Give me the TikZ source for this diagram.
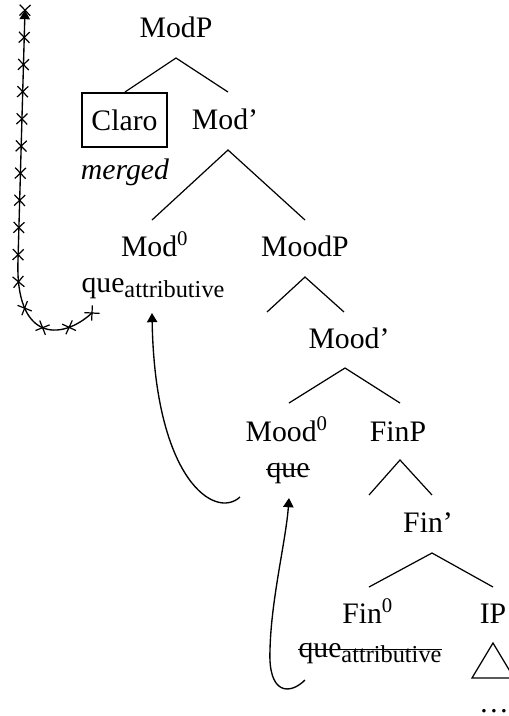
\documentclass[tikz,border=0pt]{standalone}
\usepackage{fontspec}
\setmainfont{Liberation Serif}
\usetikzlibrary{arrows.meta,decorations.markings,calc}
\newcommand\attrsub[1]{\raisebox{-2.2pt}{\fontsize{9}{10}\selectfont #1}}
\begin{document}
\begin{tikzpicture}[x=0.37pt,y=-0.37pt,
  font=\fontsize{11}{13}\selectfont,
  lab/.style={anchor=base,inner sep=0pt},
  br/.style={line width=0.45pt},
  strike/.style={line width=0.45pt},
  mv/.style={line width=0.5pt,-{Triangle[length=3.4pt,width=3.8pt]}},
  xmarks/.style={postaction={decorate},
    decoration={markings,
      mark=between positions 0 and 1 step 0.0714 with
        {\draw[-,line width=0.45pt] (-2pt,-2pt)--(2pt,2pt) (-2pt,2pt)--(2pt,-2pt);}}},
]
\useasboundingbox (0,0) rectangle (509,716);

% nodes
\node[lab] (modp) at (176,37) {ModP};
\node[draw,line width=0.45pt,minimum width=31.5pt,minimum height=20pt,inner sep=0pt] (claro) at (124.5,120) {Claro};
\node[lab] (modbar) at (225,129) {Mod’};
\node[lab] (merged) at (125,179) {\itshape merged};
\node[lab] (mod0) at (155,256) {Mod\textsuperscript{0}};
\node[lab] (qa1) at (153,292) {que\attrsub{attributive}};
\node[lab] (moodp) at (305,256) {MoodP};
\node[lab] (moodbar) at (349,348) {Mood’};
\node[lab] (mood0) at (287,441) {Mood\textsuperscript{0}};
\node[lab] (qmood) at (288,477) {que};
\node[lab] (finp) at (398,441) {FinP};
\node[lab] (finbar) at (428,532) {Fin’};
\node[lab] (fin0) at (368,623) {Fin\textsuperscript{0}};
\node[lab] (qa2) at (370,657) {que\attrsub{attributive}};
\node[lab] (ip) at (493,623) {IP};
\node[lab] (dots) at (494,712) {\dots};

% strike-throughs
\draw[strike] ([yshift=2.7pt]qmood.base west) -- ([yshift=2.7pt]qmood.base east);
\draw[strike] ([yshift=2.7pt]qa2.base west) -- ([yshift=2.7pt]qa2.base east);

% branch points
\coordinate (modp-b) at (176,58);
\coordinate (claro-t) at (125,92);
\coordinate (modbar-t) at (228,92);
\coordinate (modbar-b) at (228,150);
\coordinate (mod0-t) at (152,220);
\coordinate (moodp-t) at (305,220);
\coordinate (moodp-b) at (305,277);
\coordinate (moodp-e) at (267,312);
\coordinate (moodbar-t) at (344,312);
\coordinate (moodbar-b) at (345,368);
\coordinate (mood0-t) at (289,403);
\coordinate (finp-t) at (400,403);
\coordinate (finp-b) at (400,460);
\coordinate (finp-e) at (369,495);
\coordinate (finbar-t) at (432,495);
\coordinate (finbar-b) at (432,553);
\coordinate (fin0-t) at (369,587);
\coordinate (ip-t) at (493,587);

\draw[br] (claro-t) -- (modp-b) -- (modbar-t);
\draw[br] (mod0-t) -- (modbar-b) -- (moodp-t);
\draw[br] (moodp-e) -- (moodp-b) -- (moodbar-t);
\draw[br] (mood0-t) -- (moodbar-b) -- (finp-t);
\draw[br] (finp-e) -- (finp-b) -- (finbar-t);
\draw[br] (fin0-t) -- (finbar-b) -- (ip-t);

% IP triangle
\draw[br] (493,643) -- (472,678) -- (514,678) -- cycle;

% movement arrows
\coordinate (a1s) at (240,497);
\coordinate (a1e) at (152,313);
\draw[mv] (a1s) .. controls (215,520) and (155,480) .. (a1e);

\coordinate (a2s) at (305,680);
\coordinate (a2m) at (270,650);
\coordinate (a2e) at (289,498);
\draw[mv] (a2s) .. controls (290,695) and (268,695) .. (a2m)
  .. controls (271,600) and (286,540) .. (a2e);

\coordinate (a3s) at (92,313);
\coordinate (a3m) at (18,260);
\coordinate (a3e) at (25,10);
\draw[mv,xmarks] (a3s) .. controls (60,342) and (15,340) .. (a3m) -- (a3e);
\end{tikzpicture}
\end{document}
